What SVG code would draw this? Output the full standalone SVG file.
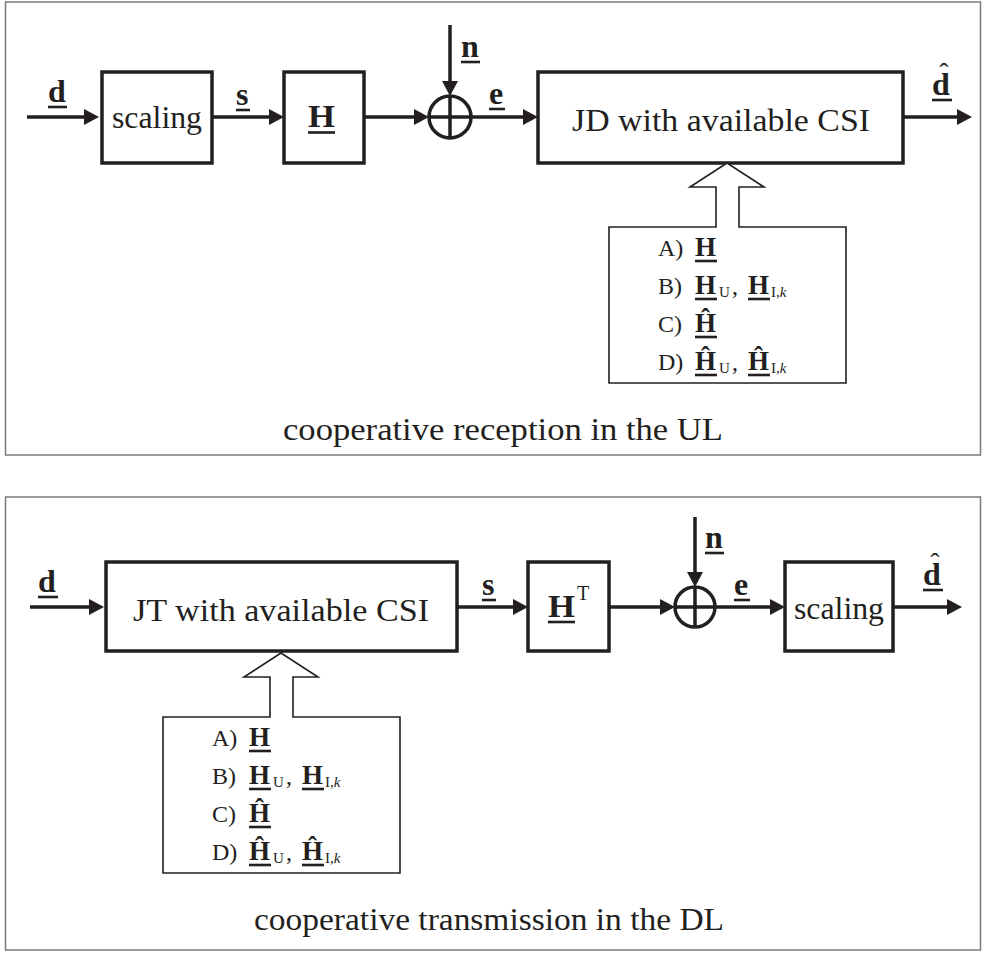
<svg xmlns="http://www.w3.org/2000/svg" width="982" height="954" viewBox="0 0 982 954">
<style>
  .frame{fill:none;stroke:#7a7a7a;stroke-width:1.5}
  .box{fill:#fff;stroke:#231f20;stroke-width:3.5}
  .wire{fill:none;stroke:#231f20;stroke-width:3.5}
  .sum{fill:#fff;stroke:#231f20;stroke-width:3.5}
  .csi{fill:#fff;stroke:#231f20;stroke-width:1.6}
  .ul{stroke:#231f20;stroke-width:2.6}
  text{font-family:"Liberation Serif","DejaVu Serif",serif;fill:#231f20}
  .t{font-size:31px}
  .b{font-size:32px;font-weight:bold}
  .bh{font-size:32px;font-weight:bold}
  .hat{font-size:28px}
  .li{font-size:24px}
  .lb{font-size:27px;font-weight:bold}
  .sub{font-size:15px}
  .sup{font-size:20px}
</style>
<defs>
  <marker id="ah" viewBox="0 0 15 16" refX="5" refY="8" markerWidth="15" markerHeight="16" markerUnits="userSpaceOnUse" orient="auto">
    <path d="M0,0 L15,8 L0,16 Z" fill="#231f20"/>
  </marker>
  <!-- list of available channel state information, drawn at the UL position -->
  <g id="csiList">
    <path class="csi" d="M609,227 H716 V187 H690 L727,163 L764,187 H739 V227 H846 V383 H609 Z"/>
    <text class="li" x="658" y="256">A)</text>
    <text class="lb" x="695" y="256">H</text>
    <line class="ul" x1="695" x2="717" y1="261" y2="261"/>
    <text class="li" x="658" y="294">B)</text>
    <text class="lb" x="695" y="294">H</text>
    <text class="sub" x="719" y="297">U</text>
    <text class="li" x="732" y="294">,</text>
    <text class="lb" x="748" y="294">H</text>
    <text class="sub" x="771" y="297">I,<tspan font-style="italic">k</tspan></text>
    <line class="ul" x1="695" x2="717" y1="299" y2="299"/>
    <line class="ul" x1="748" x2="770" y1="299" y2="299"/>
    <text class="li" x="658" y="332">C)</text>
    <text class="lb" x="695" y="332">Ĥ</text>
    <line class="ul" x1="695" x2="717" y1="337" y2="337"/>
    <text class="li" x="658" y="370">D)</text>
    <text class="lb" x="695" y="370">Ĥ</text>
    <text class="sub" x="719" y="373">U</text>
    <text class="li" x="732" y="370">,</text>
    <text class="lb" x="748" y="370">Ĥ</text>
    <text class="sub" x="771" y="373">I,<tspan font-style="italic">k</tspan></text>
    <line class="ul" x1="695" x2="717" y1="375" y2="375"/>
    <line class="ul" x1="748" x2="770" y1="375" y2="375"/>
  </g>
</defs>

<!-- panel frames -->
<rect class="frame" x="5.5" y="2" width="975" height="453"/>
<rect class="frame" x="5.5" y="497" width="975" height="453"/>

<!-- ===== uplink: cooperative reception ===== -->
<g id="connectors-ul">
  <path class="wire" d="M27,117 H89" marker-end="url(#ah)"/>
  <path class="wire" d="M212,117 H274" marker-end="url(#ah)"/>
  <path class="wire" d="M364,117 H419" marker-end="url(#ah)"/>
  <path class="wire" d="M471,117 H528" marker-end="url(#ah)"/>
  <path class="wire" d="M903,117 H962" marker-end="url(#ah)"/>
  <path class="wire" d="M450,25 V86" marker-end="url(#ah)"/>
  <!-- signal labels -->
  <text class="b" x="48" y="102">d</text>
  <line class="ul" x1="48" x2="67" y1="107" y2="107"/>
  <text class="b" x="236" y="105">s</text>
  <line class="ul" x1="236" x2="250" y1="110" y2="110"/>
  <text class="b" x="461" y="57">n</text>
  <line class="ul" x1="461" x2="480" y1="62" y2="62"/>
  <text class="b" x="489" y="104">e</text>
  <line class="ul" x1="489" x2="505" y1="109" y2="109"/>
  <text class="b" x="932" y="95">d</text>
  <text class="hat" x="944" y="82" text-anchor="middle">ˆ</text>
  <line class="ul" x1="932" x2="952" y1="100" y2="100"/>
</g>

<g id="ul-scaling">
  <rect class="box" x="102" y="72" width="110" height="91"/>
  <text class="t" x="157" y="128" text-anchor="middle" textLength="90" lengthAdjust="spacingAndGlyphs">scaling</text>
</g>
<g id="ul-channel">
  <rect class="box" x="284" y="72" width="80" height="91"/>
  <text class="bh" x="308" y="127" textLength="27" lengthAdjust="spacingAndGlyphs">H</text>
  <line class="ul" x1="308" x2="335" y1="132.5" y2="132.5"/>
</g>
<g id="ul-sum">
  <circle class="sum" cx="450" cy="117" r="21"/>
  <path class="wire" d="M429,117 H471 M450,96 V138"/>
</g>
<g id="ul-jd">
  <rect class="box" x="538" y="72" width="365" height="91"/>
  <text class="t" x="721" y="131" text-anchor="middle" textLength="298" lengthAdjust="spacingAndGlyphs">JD with available CSI</text>
</g>
<g id="ul-csi">
  <use href="#csiList"/>
</g>
<g id="ul-caption">
  <text class="t" x="503" y="440" text-anchor="middle" textLength="440" lengthAdjust="spacingAndGlyphs">cooperative reception in the UL</text>
</g>

<!-- ===== downlink: cooperative transmission ===== -->
<g id="connectors-dl">
  <path class="wire" d="M30,607 H94" marker-end="url(#ah)"/>
  <path class="wire" d="M457,607 H518" marker-end="url(#ah)"/>
  <path class="wire" d="M609,607 H665" marker-end="url(#ah)"/>
  <path class="wire" d="M715,607 H775" marker-end="url(#ah)"/>
  <path class="wire" d="M893,607 H952" marker-end="url(#ah)"/>
  <path class="wire" d="M695,517 V577" marker-end="url(#ah)"/>
  <!-- signal labels -->
  <text class="b" x="38" y="592">d</text>
  <line class="ul" x1="38" x2="58" y1="597" y2="597"/>
  <text class="b" x="482" y="595">s</text>
  <line class="ul" x1="482" x2="496" y1="600" y2="600"/>
  <text class="b" x="705" y="548">n</text>
  <line class="ul" x1="705" x2="724" y1="553" y2="553"/>
  <text class="b" x="734" y="595">e</text>
  <line class="ul" x1="734" x2="750" y1="600" y2="600"/>
  <text class="b" x="923" y="585">d</text>
  <text class="hat" x="935" y="572" text-anchor="middle">ˆ</text>
  <line class="ul" x1="923" x2="943" y1="590" y2="590"/>
</g>

<g id="dl-jt">
  <rect class="box" x="106" y="562" width="351" height="89"/>
  <text class="t" x="281" y="621" text-anchor="middle" textLength="296" lengthAdjust="spacingAndGlyphs">JT with available CSI</text>
</g>
<g id="dl-channel">
  <rect class="box" x="528" y="562" width="81" height="89"/>
  <text class="bh" x="548" y="617" textLength="27" lengthAdjust="spacingAndGlyphs">H</text>
  <text class="sup" x="577" y="600">T</text>
  <line class="ul" x1="548" x2="575" y1="622" y2="622"/>
</g>
<g id="dl-sum">
  <circle class="sum" cx="695" cy="607" r="20"/>
  <path class="wire" d="M675,607 H715 M695,587 V627"/>
</g>
<g id="dl-scaling">
  <rect class="box" x="785" y="562" width="108" height="89"/>
  <text class="t" x="839" y="619" text-anchor="middle" textLength="90" lengthAdjust="spacingAndGlyphs">scaling</text>
</g>
<g id="dl-csi">
  <use href="#csiList" transform="translate(-446,490)"/>
</g>
<g id="dl-caption">
  <text class="t" x="489" y="930" text-anchor="middle" textLength="470" lengthAdjust="spacingAndGlyphs">cooperative transmission in the DL</text>
</g>
</svg>
